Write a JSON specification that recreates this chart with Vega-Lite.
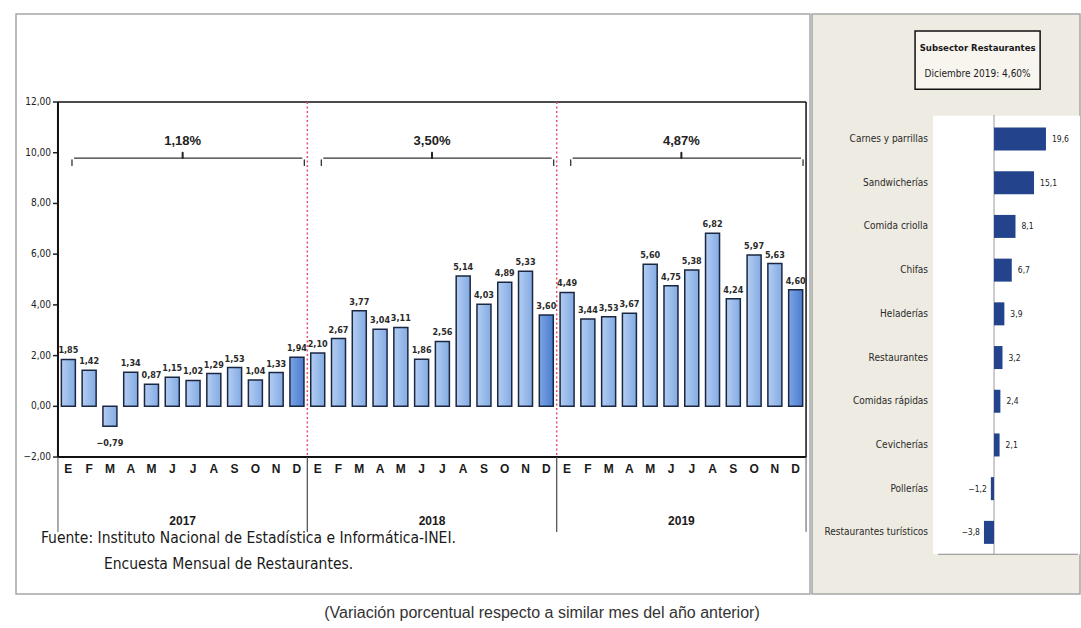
{
  "$schema": "https://vega.github.io/schema/vega-lite/v6.json",
  "background": "white",
  "padding": {"left": 15, "top": 13, "right": 2, "bottom": 4},
  "spacing": 0,
  "config": {
    "font": "Liberation Sans Narrow, DejaVu Sans Condensed, sans-serif",
    "view": {"stroke": "#a6a6a6", "strokeWidth": 1.5},
    "scale": {"continuousPadding": 0},
    "locale": {"number": {"decimal": ",", "thousands": ".", "grouping": [3], "currency": ["", ""]}}
  },
  "title": {
    "text": "(Variación porcentual respecto a similar mes del año anterior)",
    "orient": "bottom",
    "anchor": "middle",
    "font": "Liberation Sans, Arial, sans-serif",
    "fontSize": 16,
    "fontWeight": "normal",
    "color": "#333333",
    "offset": 10,
    "dx": -6
  },
  "datasets": {
    "meses": [
      {"anio": "2017", "mes": "E", "v": 1.85},
      {"anio": "2017", "mes": "F", "v": 1.42},
      {"anio": "2017", "mes": "M", "v": -0.79},
      {"anio": "2017", "mes": "A", "v": 1.34},
      {"anio": "2017", "mes": "M", "v": 0.87},
      {"anio": "2017", "mes": "J", "v": 1.15},
      {"anio": "2017", "mes": "J", "v": 1.02},
      {"anio": "2017", "mes": "A", "v": 1.29},
      {"anio": "2017", "mes": "S", "v": 1.53},
      {"anio": "2017", "mes": "O", "v": 1.04},
      {"anio": "2017", "mes": "N", "v": 1.33},
      {"anio": "2017", "mes": "D", "v": 1.94},
      {"anio": "2018", "mes": "E", "v": 2.10},
      {"anio": "2018", "mes": "F", "v": 2.67},
      {"anio": "2018", "mes": "M", "v": 3.77},
      {"anio": "2018", "mes": "A", "v": 3.04},
      {"anio": "2018", "mes": "M", "v": 3.11},
      {"anio": "2018", "mes": "J", "v": 1.86},
      {"anio": "2018", "mes": "J", "v": 2.56},
      {"anio": "2018", "mes": "A", "v": 5.14},
      {"anio": "2018", "mes": "S", "v": 4.03},
      {"anio": "2018", "mes": "O", "v": 4.89},
      {"anio": "2018", "mes": "N", "v": 5.33},
      {"anio": "2018", "mes": "D", "v": 3.60},
      {"anio": "2019", "mes": "E", "v": 4.49},
      {"anio": "2019", "mes": "F", "v": 3.44},
      {"anio": "2019", "mes": "M", "v": 3.53},
      {"anio": "2019", "mes": "A", "v": 3.67},
      {"anio": "2019", "mes": "M", "v": 5.60},
      {"anio": "2019", "mes": "J", "v": 4.75},
      {"anio": "2019", "mes": "J", "v": 5.38},
      {"anio": "2019", "mes": "A", "v": 6.82},
      {"anio": "2019", "mes": "S", "v": 4.24},
      {"anio": "2019", "mes": "O", "v": 5.97},
      {"anio": "2019", "mes": "N", "v": 5.63},
      {"anio": "2019", "mes": "D", "v": 4.60}
    ],
    "promedios": [
      {"anio": "2017", "prom": 1.18},
      {"anio": "2018", "prom": 3.50},
      {"anio": "2019", "prom": 4.87}
    ],
    "ejeY": [
      {"t": -2}, {"t": 0}, {"t": 2}, {"t": 4}, {"t": 6}, {"t": 8}, {"t": 10}, {"t": 12}
    ],
    "subsectores": [
      {"nombre": "Carnes y parrillas", "valor": 19.6},
      {"nombre": "Sandwicherías", "valor": 15.1},
      {"nombre": "Comida criolla", "valor": 8.1},
      {"nombre": "Chifas", "valor": 6.7},
      {"nombre": "Heladerías", "valor": 3.9},
      {"nombre": "Restaurantes", "valor": 3.2},
      {"nombre": "Comidas rápidas", "valor": 2.4},
      {"nombre": "Cevicherías", "valor": 2.1},
      {"nombre": "Pollerías", "valor": -1.2},
      {"nombre": "Restaurantes turísticos", "valor": -3.8}
    ]
  },
  "hconcat": [
    {
      "width": 794,
      "height": 580,
      "view": {"fill": "white"},
      "data": {"name": "meses"},
      "transform": [{"window": [{"op": "row_number", "as": "n"}]}],
      "layer": [
        {
          "mark": {"type": "bar", "orient": "vertical", "size": 14, "stroke": "#1b2740", "strokeWidth": 1.5},
          "encoding": {
            "x": {"field": "n", "type": "quantitative", "scale": {"type": "linear", "domain": [-1.52, 36.69], "nice": false, "zero": false, "padding": 0}, "axis": null},
            "y": {"field": "v", "type": "quantitative", "scale": {"domain": [-7.40, 15.47], "nice": false, "zero": false, "padding": 0}, "axis": null},
            "fill": {
              "condition": {
                "test": "datum.mes == 'D'",
                "value": {"gradient": "linear", "x1": 0, "y1": 0, "x2": 1, "y2": 0, "stops": [{"offset": 0, "color": "#7ba5e6"}, {"offset": 1, "color": "#4a7bcc"}]}
              },
              "value": {"gradient": "linear", "x1": 0, "y1": 0, "x2": 1, "y2": 0, "stops": [{"offset": 0, "color": "#b3cdf2"}, {"offset": 1, "color": "#83abe4"}]}
            }
          }
        },
        {
          "transform": [{"filter": "datum.v >= 0"}],
          "mark": {"type": "text", "baseline": "bottom", "dy": -4, "fontSize": 9, "fontWeight": "bold", "color": "#2a2a2a"},
          "encoding": {
            "x": {"field": "n", "type": "quantitative", "scale": {"type": "linear", "domain": [-1.52, 36.69], "nice": false, "zero": false, "padding": 0}, "axis": null},
            "y": {"field": "v", "type": "quantitative", "scale": {"domain": [-7.40, 15.47], "nice": false, "zero": false, "padding": 0}, "axis": null},
            "text": {"field": "v", "type": "quantitative", "format": ".2f"}
          }
        },
        {
          "transform": [{"filter": "datum.v < 0"}],
          "mark": {"type": "text", "baseline": "top", "dy": 13, "fontSize": 9, "fontWeight": "bold", "color": "#2a2a2a"},
          "encoding": {
            "x": {"field": "n", "type": "quantitative", "scale": {"type": "linear", "domain": [-1.52, 36.69], "nice": false, "zero": false, "padding": 0}, "axis": null},
            "y": {"field": "v", "type": "quantitative", "scale": {"domain": [-7.40, 15.47], "nice": false, "zero": false, "padding": 0}, "axis": null},
            "text": {"field": "v", "type": "quantitative", "format": ".2f"}
          }
        },
        {
          "mark": {"type": "text", "baseline": "middle", "fontSize": 12, "fontWeight": "bold", "font": "Liberation Sans, Arial, sans-serif", "color": "#1a1a1a"},
          "encoding": {
            "x": {"field": "n", "type": "quantitative", "scale": {"type": "linear", "domain": [-1.52, 36.69], "nice": false, "zero": false, "padding": 0}, "axis": null},
            "y": {"datum": -2.47, "type": "quantitative", "scale": {"domain": [-7.40, 15.47], "nice": false, "zero": false, "padding": 0}, "axis": null},
            "text": {"field": "mes"}
          }
        },
        {
          "data": {"name": "ejeY"},
          "layer": [
            {
              "mark": {"type": "rule", "color": "#222222", "strokeWidth": 1.5},
              "encoding": {
                "x": {"datum": 0.26, "type": "quantitative", "scale": {"type": "linear", "domain": [-1.52, 36.69], "nice": false, "zero": false, "padding": 0}, "axis": null},
                "x2": {"datum": 0.5},
                "y": {"field": "t", "type": "quantitative", "scale": {"domain": [-7.40, 15.47], "nice": false, "zero": false, "padding": 0}, "axis": null}
              }
            },
            {
              "mark": {"type": "text", "align": "right", "baseline": "middle", "dx": -7, "fontSize": 10, "color": "#222222"},
              "encoding": {
                "x": {"datum": 0.5, "type": "quantitative", "scale": {"type": "linear", "domain": [-1.52, 36.69], "nice": false, "zero": false, "padding": 0}, "axis": null},
                "y": {"field": "t", "type": "quantitative", "scale": {"domain": [-7.40, 15.47], "nice": false, "zero": false, "padding": 0}, "axis": null},
                "text": {"field": "t", "type": "quantitative", "format": ".2f"}
              }
            }
          ]
        },
        {
          "data": {"values": [{}]},
          "layer": [
            {
              "mark": {"type": "rule", "color": "#111111", "strokeWidth": 1.5},
              "encoding": {
                "x": {"datum": 0.5, "type": "quantitative", "scale": {"type": "linear", "domain": [-1.52, 36.69], "nice": false, "zero": false, "padding": 0}, "axis": null},
                "x2": {"datum": 36.5},
                "y": {"datum": 12, "type": "quantitative", "scale": {"domain": [-7.40, 15.47], "nice": false, "zero": false, "padding": 0}, "axis": null}
              }
            },
            {
              "mark": {"type": "rule", "color": "#111111", "strokeWidth": 2},
              "encoding": {
                "x": {"datum": 0.5, "type": "quantitative", "scale": {"type": "linear", "domain": [-1.52, 36.69], "nice": false, "zero": false, "padding": 0}, "axis": null},
                "x2": {"datum": 36.5},
                "y": {"datum": -2, "type": "quantitative", "scale": {"domain": [-7.40, 15.47], "nice": false, "zero": false, "padding": 0}, "axis": null}
              }
            },
            {
              "mark": {"type": "rule", "color": "#111111", "strokeWidth": 2},
              "encoding": {
                "x": {"datum": 0.5, "type": "quantitative", "scale": {"type": "linear", "domain": [-1.52, 36.69], "nice": false, "zero": false, "padding": 0}, "axis": null},
                "y": {"datum": 12, "type": "quantitative", "scale": {"domain": [-7.40, 15.47], "nice": false, "zero": false, "padding": 0}, "axis": null},
                "y2": {"datum": -2}
              }
            },
            {
              "mark": {"type": "rule", "color": "#111111", "strokeWidth": 1.5},
              "encoding": {
                "x": {"datum": 36.5, "type": "quantitative", "scale": {"type": "linear", "domain": [-1.52, 36.69], "nice": false, "zero": false, "padding": 0}, "axis": null},
                "y": {"datum": 12, "type": "quantitative", "scale": {"domain": [-7.40, 15.47], "nice": false, "zero": false, "padding": 0}, "axis": null},
                "y2": {"datum": -2}
              }
            },
            {
              "mark": {"type": "text", "align": "left", "baseline": "middle", "fontSize": 15.5, "color": "#1a1a1a"},
              "encoding": {
                "x": {"datum": -0.32, "type": "quantitative", "scale": {"type": "linear", "domain": [-1.52, 36.69], "nice": false, "zero": false, "padding": 0}, "axis": null},
                "y": {"datum": -5.19, "type": "quantitative", "scale": {"domain": [-7.40, 15.47], "nice": false, "zero": false, "padding": 0}, "axis": null},
                "text": {"value": "Fuente: Instituto Nacional de Estadística e Informática-INEI."}
              }
            },
            {
              "mark": {"type": "text", "align": "left", "baseline": "middle", "fontSize": 15.5, "color": "#1a1a1a"},
              "encoding": {
                "x": {"datum": 2.71, "type": "quantitative", "scale": {"type": "linear", "domain": [-1.52, 36.69], "nice": false, "zero": false, "padding": 0}, "axis": null},
                "y": {"datum": -6.22, "type": "quantitative", "scale": {"domain": [-7.40, 15.47], "nice": false, "zero": false, "padding": 0}, "axis": null},
                "text": {"value": "Encuesta Mensual de  Restaurantes."}
              }
            }
          ]
        },
        {
          "transform": [
            {"aggregate": [{"op": "min", "field": "n", "as": "a"}, {"op": "max", "field": "n", "as": "b"}], "groupby": ["anio"]},
            {"calculate": "datum.a - 0.5", "as": "ini"},
            {"calculate": "datum.b + 0.5", "as": "fin"},
            {"calculate": "(datum.a + datum.b) / 2", "as": "mid"},
            {"lookup": "anio", "from": {"data": {"name": "promedios"}, "key": "anio", "fields": ["prom"]}},
            {"calculate": "replace(format(datum.prom, '.2f'), '.', ',') + '%'", "as": "etiqueta"}
          ],
          "layer": [
            {
              "mark": {"type": "rule", "color": "#555555", "strokeWidth": 1},
              "encoding": {
                "x": {"field": "ini", "type": "quantitative", "scale": {"type": "linear", "domain": [-1.52, 36.69], "nice": false, "zero": false, "padding": 0}, "axis": null},
                "y": {"datum": -2, "type": "quantitative", "scale": {"domain": [-7.40, 15.47], "nice": false, "zero": false, "padding": 0}, "axis": null},
                "y2": {"datum": -4.95}
              }
            },
            {
              "mark": {"type": "rule", "color": "#555555", "strokeWidth": 1},
              "encoding": {
                "x": {"field": "fin", "type": "quantitative", "scale": {"type": "linear", "domain": [-1.52, 36.69], "nice": false, "zero": false, "padding": 0}, "axis": null},
                "y": {"datum": -2, "type": "quantitative", "scale": {"domain": [-7.40, 15.47], "nice": false, "zero": false, "padding": 0}, "axis": null},
                "y2": {"datum": -4.95}
              }
            },
            {
              "transform": [{"filter": "datum.anio != '2019'"}],
              "mark": {"type": "rule", "color": "#e4506f", "strokeWidth": 1.5, "strokeDash": [2, 2.5]},
              "encoding": {
                "x": {"field": "fin", "type": "quantitative", "scale": {"type": "linear", "domain": [-1.52, 36.69], "nice": false, "zero": false, "padding": 0}, "axis": null},
                "y": {"datum": 12, "type": "quantitative", "scale": {"domain": [-7.40, 15.47], "nice": false, "zero": false, "padding": 0}, "axis": null},
                "y2": {"datum": -2}
              }
            },
            {
              "mark": {"type": "rule", "color": "#333333", "strokeWidth": 1.3, "xOffset": 16, "x2Offset": -5},
              "encoding": {
                "x": {"field": "ini", "type": "quantitative", "scale": {"type": "linear", "domain": [-1.52, 36.69], "nice": false, "zero": false, "padding": 0}, "axis": null},
                "x2": {"field": "fin"},
                "y": {"datum": 9.79, "type": "quantitative", "scale": {"domain": [-7.40, 15.47], "nice": false, "zero": false, "padding": 0}, "axis": null}
              }
            },
            {
              "mark": {"type": "rule", "color": "#333333", "strokeWidth": 1.3, "xOffset": 14, "strokeCap": "round"},
              "encoding": {
                "x": {"field": "ini", "type": "quantitative", "scale": {"type": "linear", "domain": [-1.52, 36.69], "nice": false, "zero": false, "padding": 0}, "axis": null},
                "y": {"datum": 9.72, "type": "quantitative", "scale": {"domain": [-7.40, 15.47], "nice": false, "zero": false, "padding": 0}, "axis": null},
                "y2": {"datum": 9.5}
              }
            },
            {
              "mark": {"type": "rule", "color": "#333333", "strokeWidth": 1.3, "xOffset": -3, "strokeCap": "round"},
              "encoding": {
                "x": {"field": "fin", "type": "quantitative", "scale": {"type": "linear", "domain": [-1.52, 36.69], "nice": false, "zero": false, "padding": 0}, "axis": null},
                "y": {"datum": 9.72, "type": "quantitative", "scale": {"domain": [-7.40, 15.47], "nice": false, "zero": false, "padding": 0}, "axis": null},
                "y2": {"datum": 9.5}
              }
            },
            {
              "mark": {"type": "rule", "color": "#222222", "strokeWidth": 2, "strokeCap": "round"},
              "encoding": {
                "x": {"field": "mid", "type": "quantitative", "scale": {"type": "linear", "domain": [-1.52, 36.69], "nice": false, "zero": false, "padding": 0}, "axis": null},
                "y": {"datum": 9.79, "type": "quantitative", "scale": {"domain": [-7.40, 15.47], "nice": false, "zero": false, "padding": 0}, "axis": null},
                "y2": {"datum": 10.0}
              }
            },
            {
              "mark": {"type": "text", "baseline": "middle", "fontSize": 13, "fontWeight": "bold", "font": "Liberation Sans, Arial, sans-serif", "color": "#222222"},
              "encoding": {
                "x": {"field": "mid", "type": "quantitative", "scale": {"type": "linear", "domain": [-1.52, 36.69], "nice": false, "zero": false, "padding": 0}, "axis": null},
                "y": {"datum": 10.46, "type": "quantitative", "scale": {"domain": [-7.40, 15.47], "nice": false, "zero": false, "padding": 0}, "axis": null},
                "text": {"field": "etiqueta"}
              }
            },
            {
              "mark": {"type": "text", "baseline": "middle", "fontSize": 12, "fontWeight": "bold", "font": "Liberation Sans, Arial, sans-serif", "color": "#1a1a1a"},
              "encoding": {
                "x": {"field": "mid", "type": "quantitative", "scale": {"type": "linear", "domain": [-1.52, 36.69], "nice": false, "zero": false, "padding": 0}, "axis": null},
                "y": {"datum": -4.52, "type": "quantitative", "scale": {"domain": [-7.40, 15.47], "nice": false, "zero": false, "padding": 0}, "axis": null},
                "text": {"field": "anio"}
              }
            }
          ]
        }
      ]
    },
    {
      "width": 268,
      "height": 580,
      "view": {"fill": "#eeebe2"},
      "data": {"name": "subsectores"},
      "transform": [{"window": [{"op": "row_number", "as": "orden"}]}],
      "layer": [
        {
          "data": {"values": [{}]},
          "layer": [
            {
              "mark": {"type": "rect", "color": "white"},
              "encoding": {
                "x": {"datum": -23, "type": "quantitative", "scale": {"type": "linear", "domain": [-68.7, 32.45], "nice": false, "zero": false, "padding": 0}, "axis": null},
                "x2": {"datum": 32.45},
                "y": {"datum": 0.47, "type": "quantitative", "scale": {"domain": [-1.86, 11.41], "nice": false, "zero": false, "reverse": true, "padding": 0}, "axis": null},
                "y2": {"datum": 10.5}
              }
            },
            {
              "mark": {"type": "rule", "color": "#8a8a8a", "strokeWidth": 1.2},
              "encoding": {
                "x": {"datum": -21.1, "type": "quantitative", "scale": {"type": "linear", "domain": [-68.7, 32.45], "nice": false, "zero": false, "padding": 0}, "axis": null},
                "x2": {"datum": 31.7},
                "y": {"datum": 10.5, "type": "quantitative", "scale": {"domain": [-1.86, 11.41], "nice": false, "zero": false, "reverse": true, "padding": 0}, "axis": null}
              }
            },
            {
              "mark": {"type": "rule", "color": "#9a9a9a", "strokeWidth": 1},
              "encoding": {
                "x": {"datum": 0, "type": "quantitative", "scale": {"type": "linear", "domain": [-68.7, 32.45], "nice": false, "zero": false, "padding": 0}, "axis": null},
                "y": {"datum": 0.45, "type": "quantitative", "scale": {"domain": [-1.86, 11.41], "nice": false, "zero": false, "reverse": true, "padding": 0}, "axis": null},
                "y2": {"datum": 10.5}
              }
            },
            {
              "mark": {"type": "rect", "fill": "#f8f5ef", "stroke": "#111111", "strokeWidth": 1.5},
              "encoding": {
                "x": {"datum": -29.8, "type": "quantitative", "scale": {"type": "linear", "domain": [-68.7, 32.45], "nice": false, "zero": false, "padding": 0}, "axis": null},
                "x2": {"datum": 17.4},
                "y": {"datum": -1.47, "type": "quantitative", "scale": {"domain": [-1.86, 11.41], "nice": false, "zero": false, "reverse": true, "padding": 0}, "axis": null},
                "y2": {"datum": -0.14}
              }
            },
            {
              "mark": {"type": "text", "baseline": "middle", "fontSize": 9.5, "fontWeight": "bold", "color": "#1a1a1a"},
              "encoding": {
                "x": {"datum": -6.2, "type": "quantitative", "scale": {"type": "linear", "domain": [-68.7, 32.45], "nice": false, "zero": false, "padding": 0}, "axis": null},
                "y": {"datum": -1.08, "type": "quantitative", "scale": {"domain": [-1.86, 11.41], "nice": false, "zero": false, "reverse": true, "padding": 0}, "axis": null},
                "text": {"value": "Subsector Restaurantes"}
              }
            },
            {
              "mark": {"type": "text", "baseline": "middle", "fontSize": 10, "color": "#1a1a1a"},
              "encoding": {
                "x": {"datum": -6.2, "type": "quantitative", "scale": {"type": "linear", "domain": [-68.7, 32.45], "nice": false, "zero": false, "padding": 0}, "axis": null},
                "y": {"datum": -0.49, "type": "quantitative", "scale": {"domain": [-1.86, 11.41], "nice": false, "zero": false, "reverse": true, "padding": 0}, "axis": null},
                "text": {"value": "Diciembre 2019: 4,60%"}
              }
            }
          ]
        },
        {
          "mark": {"type": "bar", "orient": "horizontal", "size": 23, "color": "#23448c"},
          "encoding": {
            "x": {"field": "valor", "type": "quantitative", "scale": {"type": "linear", "domain": [-68.7, 32.45], "nice": false, "zero": false, "padding": 0}, "axis": null},
            "y": {"field": "orden", "type": "quantitative", "scale": {"domain": [-1.86, 11.41], "nice": false, "zero": false, "reverse": true, "padding": 0}, "axis": null}
          }
        },
        {
          "transform": [{"filter": "datum.valor >= 0"}],
          "mark": {"type": "text", "align": "left", "baseline": "middle", "dx": 6, "fontSize": 8.5, "color": "#222222"},
          "encoding": {
            "x": {"field": "valor", "type": "quantitative", "scale": {"type": "linear", "domain": [-68.7, 32.45], "nice": false, "zero": false, "padding": 0}, "axis": null},
            "y": {"field": "orden", "type": "quantitative", "scale": {"domain": [-1.86, 11.41], "nice": false, "zero": false, "reverse": true, "padding": 0}, "axis": null},
            "text": {"field": "valor", "type": "quantitative", "format": ".1f"}
          }
        },
        {
          "transform": [{"filter": "datum.valor < 0"}],
          "mark": {"type": "text", "align": "right", "baseline": "middle", "dx": -4, "fontSize": 8.5, "color": "#222222"},
          "encoding": {
            "x": {"field": "valor", "type": "quantitative", "scale": {"type": "linear", "domain": [-68.7, 32.45], "nice": false, "zero": false, "padding": 0}, "axis": null},
            "y": {"field": "orden", "type": "quantitative", "scale": {"domain": [-1.86, 11.41], "nice": false, "zero": false, "reverse": true, "padding": 0}, "axis": null},
            "text": {"field": "valor", "type": "quantitative", "format": ".1f"}
          }
        },
        {
          "mark": {"type": "text", "align": "right", "baseline": "middle", "fontSize": 10, "color": "#2a2a2a"},
          "encoding": {
            "x": {"datum": -24.9, "type": "quantitative", "scale": {"type": "linear", "domain": [-68.7, 32.45], "nice": false, "zero": false, "padding": 0}, "axis": null},
            "y": {"field": "orden", "type": "quantitative", "scale": {"domain": [-1.86, 11.41], "nice": false, "zero": false, "reverse": true, "padding": 0}, "axis": null},
            "text": {"field": "nombre"}
          }
        }
      ]
    }
  ]
}
